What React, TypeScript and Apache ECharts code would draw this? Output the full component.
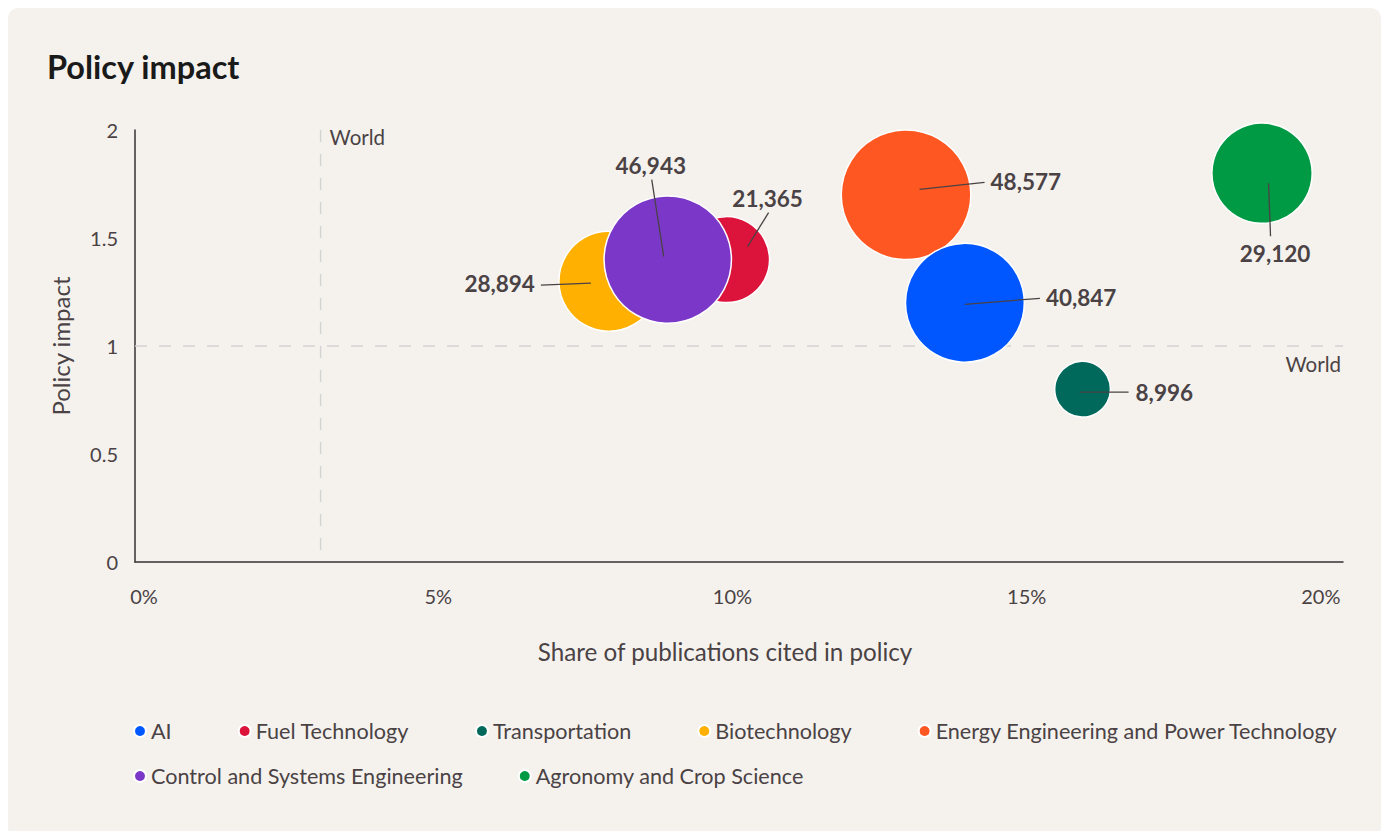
import React, { useEffect, useRef } from "react";
import * as echarts from "echarts";

const categories = [
  "AI",
  "Fuel Technology",
  "Transportation",
  "Biotechnology",
  "Energy Engineering and Power Technology",
  "Control and Systems Engineering",
  "Agronomy and Crop Science",
];
const shareCited = [13.95, 9.9, 15.95, 7.9, 12.95, 8.9, 19.0];
const policyImpact = [1.2, 1.4, 0.8, 1.3, 1.7, 1.4, 1.8];
const publications = [40847, 21365, 8996, 28894, 48577, 46943, 29120];
const xTickValues = [0, 5, 10, 15, 20];
const worldShare = 3;
const worldImpact = 1;
const worldLabel = "World";

const colors = ["#0057ff", "#dc143c", "#00695c", "#ffb000", "#ff5722", "#7b38c8", "#009944"];
const X_MIN = -0.154;
const X_MAX = 20.376;

// label offsets (pixels, relative to bubble centre): line start, line end, label anchor
const leader = [
  { s: [0, 1.5], e: [75, -4.5], l: [81, -5.5], align: "left" },
  { s: [21, -13], e: [42, -47], l: [41, -61], align: "center" },
  { s: [-3, 3], e: [46, 3], l: [53, 3.5], align: "left" },
  { s: [-18, 2], e: [-68, 4], l: [-74, 2], align: "right" },
  { s: [13.5, -5.5], e: [78.5, -12.5], l: [84.5, -13.5], align: "left" },
  { s: [-4, -3], e: [-16, -80], l: [-17, -94], align: "center" },
  { s: [6.5, 10], e: [8.5, 63], l: [13, 80], align: "center" },
];

const FONT = "Lato, 'Noto Sans', sans-serif";
const TEXT = "#4a4244";

export default function App() {
  const ref = useRef<HTMLDivElement>(null);
  useEffect(() => {
    document.body.style.overflow = "hidden";
    const chart = echarts.init(ref.current!, null, { renderer: "svg" });
    const zOrder = [3, 2, 2, 2, 2, 3, 2];
    const scatterSeries = categories.map((name, i) => ({
      name,
      type: "scatter",
      z: zOrder[i],
      silent: true,
      data: [[shareCited[i], policyImpact[i], publications[i]]],
      symbolSize: (v: number[]) => 0.588 * Math.sqrt(v[2]),
      itemStyle: { color: colors[i], opacity: 1, borderColor: "#ffffff", borderWidth: 1.5 },
      emphasis: { disabled: true },
    }));

    const legendText = { fontFamily: FONT, fontSize: 21.6, color: TEXT, lineHeight: 24 };

    const option: any = {
      animation: false,
      backgroundColor: "transparent",
      textStyle: { fontFamily: FONT },
      title: {
        text: "Policy impact",
        left: 39,
        top: 39,
        padding: 0,
        textStyle: { fontFamily: FONT, fontSize: 32.5, fontWeight: "bold", color: "#1a1a1a", lineHeight: 38 },
      },
      legend: [
        {
          data: categories.slice(0, 5),
          left: 125,
          top: 711,
          padding: 0,
          itemGap: 66,
          itemWidth: 12,
          itemHeight: 12,
          icon: "circle",
          selectedMode: false,
          textStyle: legendText,
        },
        {
          data: categories.slice(5),
          left: 125,
          top: 756,
          padding: 0,
          itemGap: 55,
          itemWidth: 12,
          itemHeight: 12,
          icon: "circle",
          selectedMode: false,
          textStyle: legendText,
        },
      ],
      grid: { left: 127, top: 122, width: 1208, height: 432 },
      xAxis: {
        type: "value",
        min: X_MIN,
        max: X_MAX,
        name: "Share of publications cited in policy",
        nameLocation: "middle",
        nameGap: 77,
        nameTextStyle: { fontFamily: FONT, fontSize: 24.2, color: TEXT, padding: [0, 28, 0, 0] },
        axisLine: { show: true, onZero: false, lineStyle: { color: "#333333", width: 1.5 } },
        axisTick: { show: false },
        splitLine: { show: false },
        axisLabel: {
          customValues: xTickValues,
          formatter: (v: number) => `${v}%`,
          fontFamily: FONT,
          fontSize: 20,
          color: TEXT,
          margin: 24,
        },
      },
      yAxis: {
        type: "value",
        min: 0,
        max: 2,
        interval: 0.5,
        name: "Policy impact",
        nameLocation: "middle",
        nameGap: 63,
        nameRotate: 90,
        nameTextStyle: { fontFamily: FONT, fontSize: 24, color: TEXT },
        axisLine: { show: true, onZero: false, lineStyle: { color: "#333333", width: 1.5 } },
        axisTick: { show: false },
        splitLine: { show: false },
        axisLabel: { fontFamily: FONT, fontSize: 20, color: TEXT, margin: 17 },
      },
      series: [
        {
          type: "custom",
          name: "world",
          z: 1,
          silent: true,
          data: [[worldShare, worldImpact]],
          encode: { x: 0, y: 1 },
          renderItem: (params: any, api: any) => {
            const top = api.coord([worldShare, 2]);
            const bottom = api.coord([worldShare, 0]);
            const left = api.coord([X_MIN, worldImpact]);
            const right = api.coord([X_MAX, worldImpact]);
            const lineStyle = { stroke: "#d4d4d4", lineWidth: 1.5, lineDash: [12, 12] };
            return {
              type: "group",
              children: [
                { type: "line", shape: { x1: top[0], y1: top[1], x2: bottom[0], y2: bottom[1] }, style: lineStyle },
                { type: "line", shape: { x1: left[0], y1: left[1], x2: right[0], y2: right[1] }, style: lineStyle },
                {
                  type: "text",
                  x: top[0] + 9,
                  y: top[1] + 7,
                  style: {
                    text: worldLabel,
                    fill: TEXT,
                    font: `20.5px ${FONT}`,
                    align: "left",
                    verticalAlign: "middle",
                    textAlign: "left",
                    textVerticalAlign: "middle",
                  },
                },
                {
                  type: "text",
                  x: right[0] - 2,
                  y: right[1] + 18,
                  style: {
                    text: worldLabel,
                    fill: TEXT,
                    font: `20.5px ${FONT}`,
                    align: "right",
                    verticalAlign: "middle",
                    textAlign: "right",
                    textVerticalAlign: "middle",
                  },
                },
              ],
            };
          },
        },
        ...scatterSeries,
        {
          type: "custom",
          name: "labels",
          z: 10,
          silent: true,
          data: shareCited.map((x, i) => [x, policyImpact[i]]),
          encode: { x: 0, y: 1 },
          renderItem: (params: any, api: any) => {
            const i = params.dataIndex;
            const c = api.coord([api.value(0), api.value(1)]);
            const L = leader[i];
            return {
              type: "group",
              children: [
                {
                  type: "line",
                  shape: { x1: c[0] + L.s[0], y1: c[1] + L.s[1], x2: c[0] + L.e[0], y2: c[1] + L.e[1] },
                  style: { stroke: TEXT, lineWidth: 1.3 },
                },
                {
                  type: "text",
                  x: c[0] + L.l[0],
                  y: c[1] + L.l[1],
                  style: {
                    text: publications[i].toLocaleString("en-US"),
                    fill: TEXT,
                    font: `bold 22.5px ${FONT}`,
                    align: L.align,
                    verticalAlign: "middle",
                    textAlign: L.align,
                    textVerticalAlign: "middle",
                  },
                },
              ],
            };
          },
        },
      ],
    };
    chart.setOption(option);
    return () => chart.dispose();
  }, []);

  return (
    <div style={{ background: "#f5f2ee", borderRadius: 10, width: "100%", height: 830 }}>
      <div ref={ref} style={{ width: "100%", height: 823 }} />
    </div>
  );
}
